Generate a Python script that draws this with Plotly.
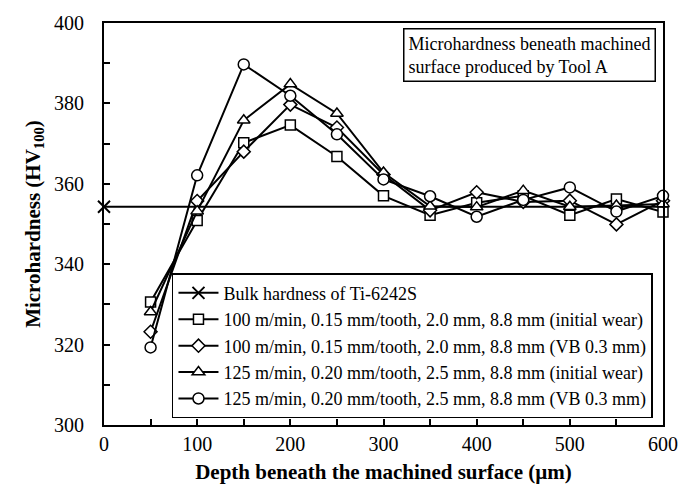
import plotly.graph_objects as go

depth = [50, 100, 150, 200, 250, 300, 350, 400, 450, 500, 550, 600]
bulk_hardness = 354.3
bulk_x = [0, 600]

sq_100_init = [330.6, 350.9, 370.2, 374.6, 366.8, 357.0, 352.2, 355.3, 357.0, 352.2, 356.2, 353.0]
di_100_vb = [323.2, 355.7, 368.0, 379.7, 374.0, 362.3, 353.4, 357.9, 355.5, 355.8, 349.9, 355.8]
tr_125_init = [328.1, 353.2, 375.8, 384.8, 377.5, 362.8, 354.4, 354.2, 358.3, 354.3, 354.6, 355.0]
ci_125_vb = [319.3, 362.1, 389.7, 381.9, 372.3, 361.1, 356.9, 351.8, 356.0, 359.1, 353.1, 357.0]

names = [
    "Bulk hardness of Ti-6242S",
    "100 m/min, 0.15 mm/tooth, 2.0 mm, 8.8 mm (initial wear)",
    "100 m/min, 0.15 mm/tooth, 2.0 mm, 8.8 mm (VB 0.3 mm)",
    "125 m/min, 0.20 mm/tooth, 2.5 mm, 8.8 mm (initial wear)",
    "125 m/min, 0.20 mm/tooth, 2.5 mm, 8.8 mm (VB 0.3 mm)",
]

FONT = "Liberation Serif"
fig = go.Figure()

# bulk line
fig.add_trace(go.Scatter(x=bulk_x, y=[bulk_hardness] * 2, mode="lines",
                         line=dict(color="black", width=2), showlegend=False,
                         hoverinfo="skip"))
fig.add_trace(go.Scatter(x=bulk_x[:1], y=[bulk_hardness], mode="lines+markers",
                         name=names[0], line=dict(color="black", width=2),
                         marker=dict(symbol="x-thin-open", size=12,
                                     line=dict(color="black", width=2)),
                         cliponaxis=False))

series = [(sq_100_init, "square", 10), (di_100_vb, "diamond", 10),
          (tr_125_init, "triangle-up", 11), (ci_125_vb, "circle", 11)]
for (vals, sym, sz), nm in zip(series, names[1:]):
    fig.add_trace(go.Scatter(x=depth, y=vals, mode="lines+markers", name=nm,
                             line=dict(color="black", width=2),
                             marker=dict(symbol=sym, size=sz, color="white",
                                         line=dict(color="black", width=1.5)),
                             cliponaxis=False))

fig.update_layout(
    width=695, height=488,
    margin=dict(l=104, r=32, t=16, b=63),
    paper_bgcolor="white", plot_bgcolor="white",
    font=dict(family=FONT, color="black", size=20),
    showlegend=True,
    legend=dict(x=0.1216, y=0.017, xanchor="left", yanchor="bottom",
                bordercolor="black", borderwidth=1.5, bgcolor="white",
                font=dict(family=FONT, size=18), tracegroupgap=0,
                itemwidth=40),
    xaxis=dict(range=[0, 600], showline=True, linecolor="black", linewidth=2,
               mirror=True, showgrid=False, zeroline=False, automargin=False,
               ticks="inside", ticklen=6, tickwidth=1.5, tickcolor="black",
               dtick=100, tick0=0,
               minor=dict(ticks="inside", ticklen=6, dtick=50, tickcolor="black", tickwidth=1.5, showgrid=False),
               tickfont=dict(family=FONT, size=20),
               title=dict(text="<b>Depth beneath the machined surface (µm)</b>",
                          font=dict(family=FONT, size=21), standoff=10)),
    yaxis=dict(range=[300, 400], showline=True, linecolor="black", linewidth=2,
               mirror=True, showgrid=False, zeroline=False,
               ticks="inside", ticklen=6, tickwidth=1.5, tickcolor="black",
               dtick=20, tick0=300, ticklabelstandoff=14,
               minor=dict(ticks="inside", ticklen=6, dtick=10, tickcolor="black", tickwidth=1.5, showgrid=False),
               tickfont=dict(family=FONT, size=20),
               title=dict(text="<b>Microhardness (HV<sub>100</sub>)</b>",
                          font=dict(family=FONT, size=21), standoff=8)),
    annotations=[dict(
        text="Microhardness beneath machined<br>surface produced by Tool A",
        xref="paper", yref="paper", x=0.5348, y=0.9875, xanchor="left", yanchor="top",
        showarrow=False, align="left", bordercolor="black", borderwidth=1.5,
        borderpad=4, bgcolor="white", font=dict(family=FONT, size=18))],
)

fig.write_html("out.html")
